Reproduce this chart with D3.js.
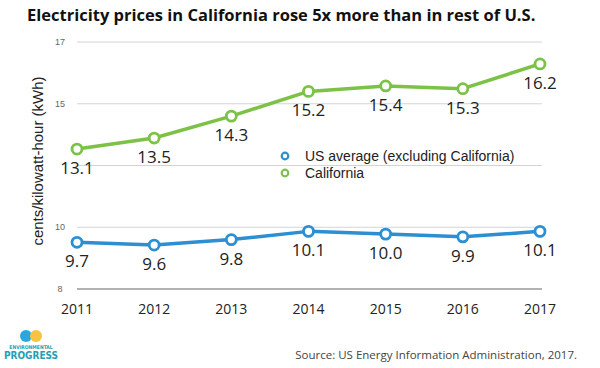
<!DOCTYPE html>
<head>
    <meta charset="utf-8">
    <title>Electricity prices</title>
<style>
    body {
        margin: 0;
        background: #fff;
    }

    .title {
        font-family: "Open Sans", sans-serif;
        font-weight: bold;
        font-size: 16.5px;
        fill: #111;
    }

    .tick-label {
        font-family: "Liberation Sans", sans-serif;
        font-size: 9px;
        fill: #666;
    }

    .year {
        font-family: "Open Sans", sans-serif;
        font-size: 14px;
        fill: #222;
    }

    .value {
        font-family: "Open Sans", sans-serif;
        font-size: 17px;
        fill: #222;
    }

    .legend, .ylabel {
        font-family: "Liberation Sans", sans-serif;
        fill: #222;
    }

    .source {
        font-family: "Open Sans", sans-serif;
        font-size: 11.5px;
        fill: #444;
    }
</style>
</head>
<body>
<script src="https://d3js.org/d3.v7.min.js"></script>
<script>

    const YEARS = [2011, 2012, 2013, 2014, 2015, 2016, 2017];
    const US_AVG = [9.7, 9.6, 9.8, 10.1, 10.0, 9.9, 10.1];
    const CALIFORNIA = [13.1, 13.5, 14.3, 15.2, 15.4, 15.3, 16.2];

    // gridlines as drawn in the original, with the labels it printed on them
    const GRID_VALUES = [8, 10.25, 12.5, 14.75, 17];
    const GRID_LABELS = ['8', '10', '', '15', '17'];

    const SERIES = [
        {name: 'US average (excluding California)', values: US_AVG, color: '#2b8fd2'},
        {name: 'California', values: CALIFORNIA, color: '#7cc247'}
    ];

    const width = 600, height = 368;

    const svg = d3.select('body').append('svg')
        .attr('width', width)
        .attr('height', height);

    const x = d3.scaleLinear().domain([2011, 2017]).range([77, 540]);
    const y = d3.scaleLinear().domain([8, 17]).range([289, 42]);

    svg.append('text')
        .attr('class', 'title')
        .attr('x', 27)
        .attr('y', 21)
        .text('Electricity prices in California rose 5x more than in rest of U.S.');

    // grid
    const grid = svg.append('g');
    grid.selectAll('line')
        .data(GRID_VALUES)
        .join('line')
        .attr('x1', 77)
        .attr('x2', 542)
        .attr('y1', d => y(d))
        .attr('y2', d => y(d))
        .attr('stroke', (d, i) => i === 0 ? '#999' : '#d4d4d4')
        .attr('stroke-width', (d, i) => i === 0 ? 1.6 : 1);

    grid.selectAll('text')
        .data(GRID_VALUES)
        .join('text')
        .attr('class', 'tick-label')
        .attr('x', 60)
        .attr('y', d => y(d))
        .attr('text-anchor', 'middle')
        .attr('dominant-baseline', 'central')
        .text((d, i) => GRID_LABELS[i]);

    svg.append('text')
        .attr('class', 'ylabel')
        .attr('transform', 'translate(43,161) rotate(-90)')
        .attr('text-anchor', 'middle')
        .style('font-size', '15px')
        .text('cents/kilowatt-hour (kWh)');

    // years
    svg.append('g').selectAll('text')
        .data(YEARS)
        .join('text')
        .attr('class', 'year')
        .attr('x', d => x(d))
        .attr('y', 314)
        .attr('text-anchor', 'middle')
        .text(d => d);

    // legend
    const legend = svg.append('g')
        .selectAll('g')
        .data(SERIES)
        .join('g')
        .attr('transform', (d, i) => `translate(285,${156 + i * 17})`);

    legend.append('circle')
        .attr('r', 3.3)
        .attr('fill', '#fff')
        .attr('stroke', d => d.color)
        .attr('stroke-width', 2.2);

    legend.append('text')
        .attr('class', 'legend')
        .attr('x', 20)
        .attr('y', 5)
        .style('font-size', '14px')
        .text(d => d.name);

    // lines
    const line = d3.line()
        .x((d, i) => x(YEARS[i]))
        .y(d => y(d));

    const series = svg.append('g')
        .selectAll('g')
        .data(SERIES)
        .join('g');

    series.append('path')
        .attr('d', d => line(d.values))
        .attr('fill', 'none')
        .attr('stroke', d => d.color)
        .attr('stroke-width', 3.5)
        .attr('stroke-linejoin', 'round');

    series.selectAll('circle')
        .data(d => d.values.map((v, i) => ({v, year: YEARS[i], color: d.color})))
        .join('circle')
        .attr('cx', d => x(d.year))
        .attr('cy', d => y(d.v))
        .attr('r', 5)
        .attr('fill', '#fff')
        .attr('stroke', d => d.color)
        .attr('stroke-width', 2.8);

    series.selectAll('text.value')
        .data(d => d.values.map((v, i) => ({v, year: YEARS[i]})))
        .join('text')
        .attr('class', 'value')
        .attr('x', d => x(d.year))
        .attr('y', d => y(d.v) + 25)
        .attr('text-anchor', 'middle')
        .text(d => d.v.toFixed(1));

    // logo
    const logo = svg.append('g').attr('transform', 'translate(31,336)');
    logo.append('circle').attr('cx', -5).attr('r', 6).attr('fill', '#2aa7dc');
    logo.append('circle').attr('cx', 5).attr('r', 6).attr('fill', '#f6c343');
    logo.append('text')
        .attr('y', 13)
        .attr('text-anchor', 'middle')
        .style('font-family', '"DejaVu Sans Condensed", sans-serif')
        .style('font-weight', 'bold')
        .style('font-size', '5px')
        .attr('fill', '#1e9fb6')
        .text('ENVIRONMENTAL');
    logo.append('text')
        .attr('y', 23)
        .attr('text-anchor', 'middle')
        .style('font-family', '"DejaVu Sans Condensed", sans-serif')
        .style('font-weight', 'bold')
        .style('font-size', '10px')
        .attr('fill', '#1e9fb6')
        .text('PROGRESS');

    svg.append('text')
        .attr('class', 'source')
        .attr('x', 577)
        .attr('y', 359)
        .attr('text-anchor', 'end')
        .text('Source: US Energy Information Administration, 2017.');
</script>
